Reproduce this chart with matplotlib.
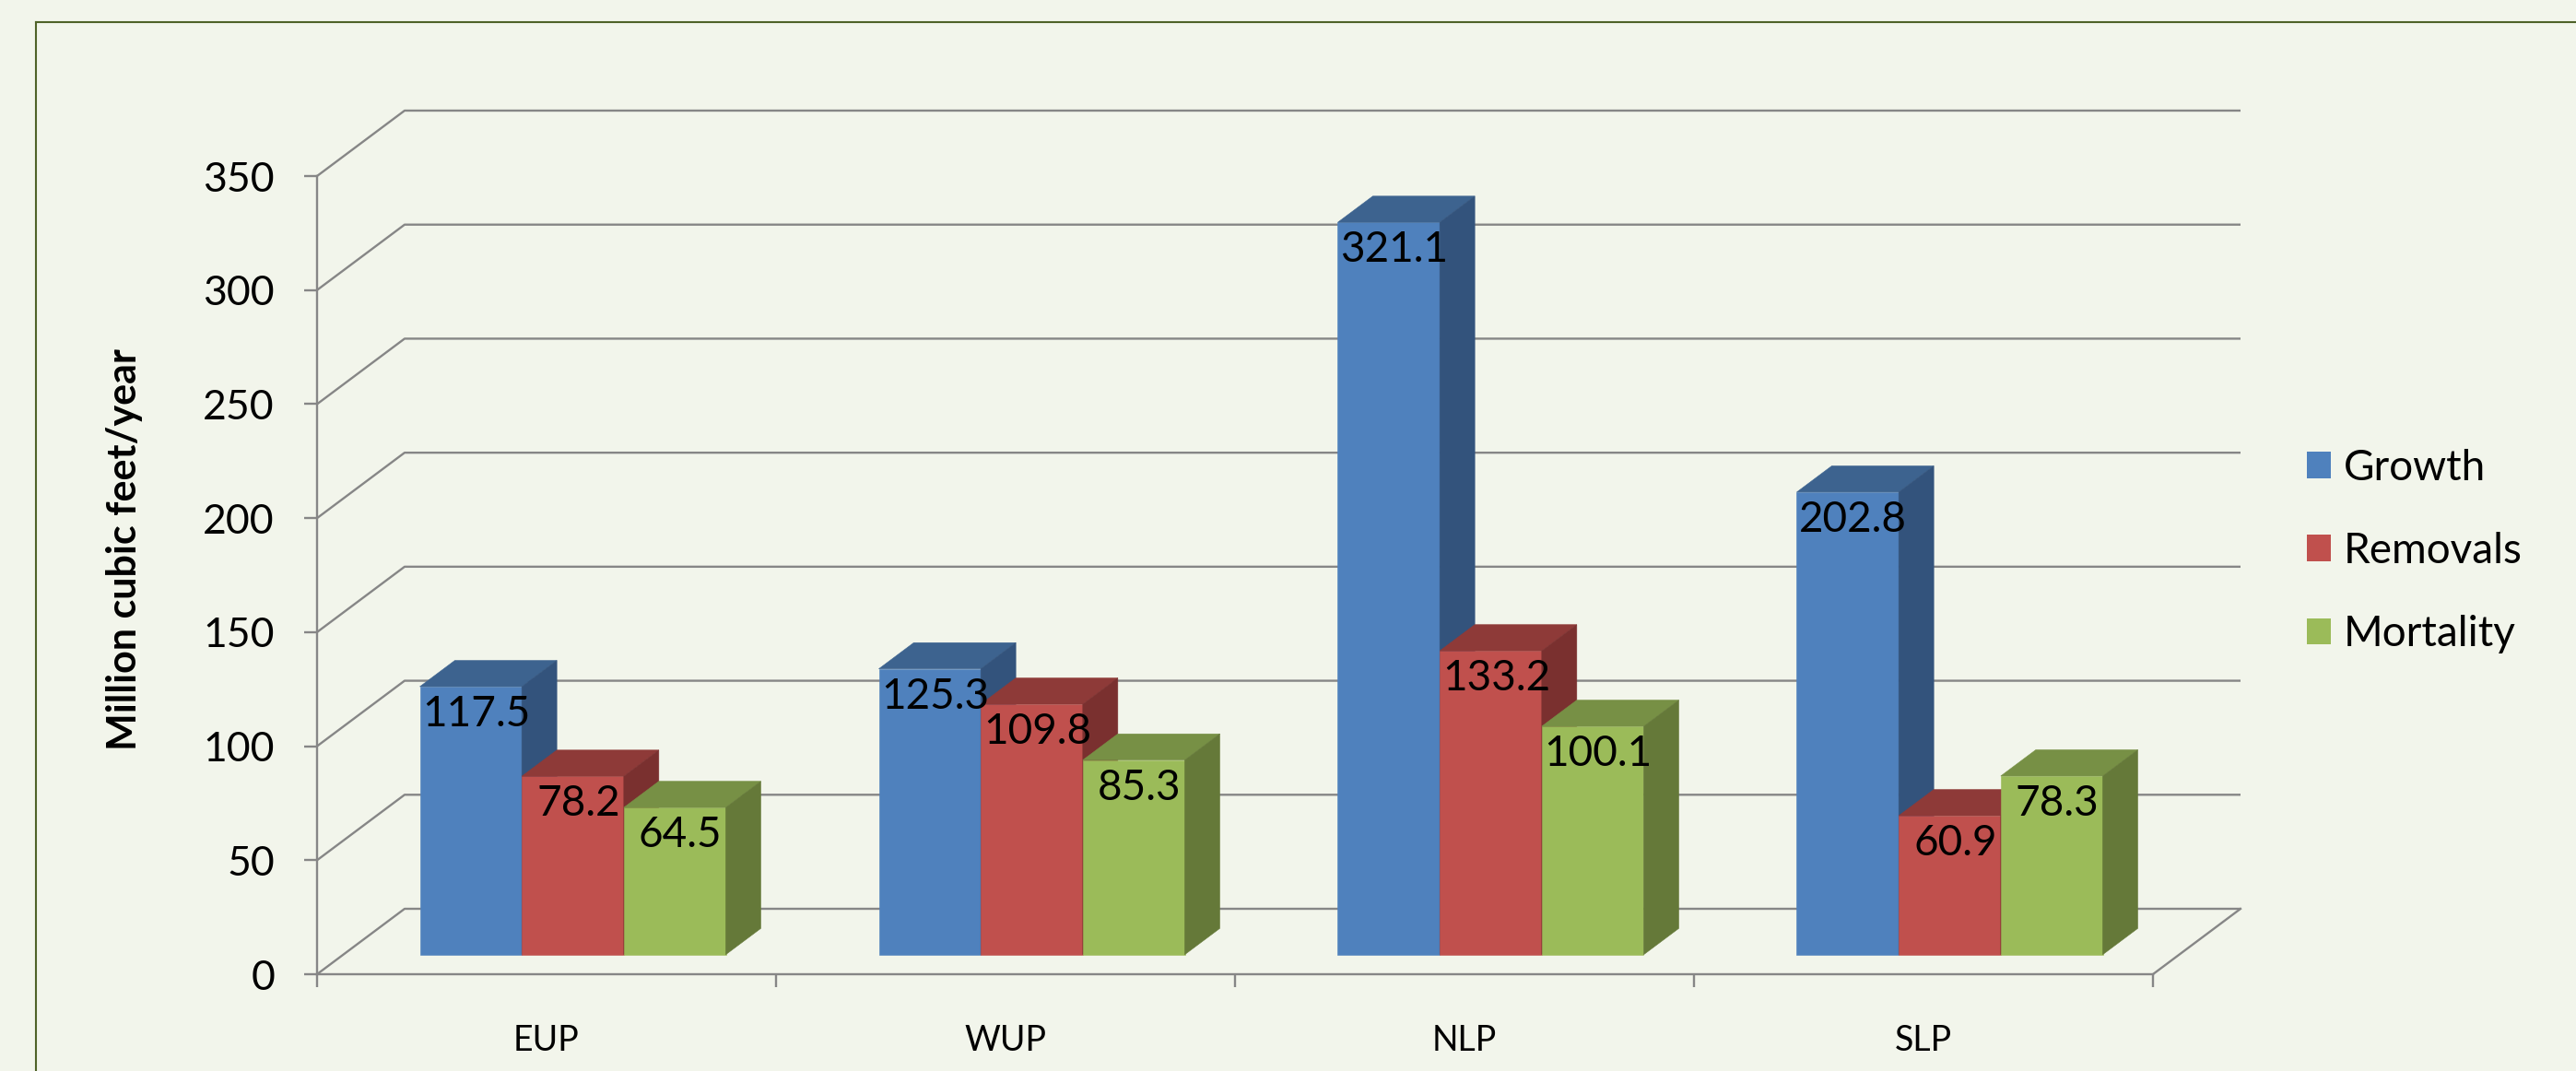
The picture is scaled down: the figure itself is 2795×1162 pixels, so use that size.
import matplotlib
matplotlib.use("Agg")
import matplotlib.pyplot as plt
from matplotlib.patches import Polygon, Patch
from matplotlib.lines import Line2D

# ---------------- data ----------------
categories = ["EUP", "WUP", "NLP", "SLP"]
series_names = ["Growth", "Removals", "Mortality"]
growth = [117.5, 125.3, 321.1, 202.8]
removals = [78.2, 109.8, 133.2, 60.9]
mortality = [64.5, 85.3, 100.1, 78.3]
y_ticks = [0, 50, 100, 150, 200, 250, 300, 350]
y_label = "Million cubic feet/year"

# ---------------- style ----------------
W, H, DPI = 2795, 1162, 100
BG = "#F2F5EB"
BORDER = "#4F6228"
GRID = "#868686"
face_cols = ["#4F81BD", "#C0504D", "#9BBB59"]
top_cols = ["#3D638F", "#8E3A38", "#779045"]
side_cols = ["#33537C", "#7A302F", "#657939"]

plt.rcParams["font.family"] = ["Lato", "DejaVu Sans"]

fig = plt.figure(figsize=(W / DPI, H / DPI), dpi=DPI, facecolor=BG)

# front plane of the 3-D box, in pixels
L, R, T, B = 344, 2336, 191, 1057
ax = fig.add_axes([L / W, 1 - B / H, (R - L) / W, (B - T) / H])
ax.set_facecolor("none")
ncat = len(categories)
ymax = y_ticks[-1]
ax.set_xlim(0, ncat)
ax.set_ylim(0, ymax)

# depth of the box, converted into data units
DX_PX, DY_PX = 95, 71
dxc = DX_PX / ((R - L) / ncat)
dyv = DY_PX / ((B - T) / ymax)


def P(x, v, z):
    return (x + z * dxc, v + z * dyv)


LW = 1.7
# walls / gridlines
for v in y_ticks:
    pts = [P(0, v, 0), P(0, v, 1), P(ncat, v, 1)]
    ax.plot([p[0] for p in pts], [p[1] for p in pts], color=GRID, lw=LW,
            clip_on=False, zorder=1, solid_capstyle="butt")
pts = [P(ncat, 0, 0), P(ncat, 0, 1)]
ax.plot([p[0] for p in pts], [p[1] for p in pts], color=GRID, lw=LW,
        clip_on=False, zorder=1)

# axes lines and ticks
for s in ["top", "right"]:
    ax.spines[s].set_visible(False)
for s in ["left", "bottom"]:
    ax.spines[s].set_color(GRID)
    ax.spines[s].set_linewidth(LW)
    ax.spines[s].set_zorder(2)
ax.set_yticks(y_ticks)
ax.set_yticklabels([str(t) for t in y_ticks])
ax.tick_params(axis="y", direction="out", length=14 * 0.72, width=LW,
               color=GRID, pad=32 * 0.72, labelsize=32, labelcolor="black")
ax.set_xticks(range(ncat + 1))
ax.set_xticklabels([""] * (ncat + 1))
ax.tick_params(axis="x", direction="out", length=14 * 0.72, width=LW,
               color=GRID)

for i, c in enumerate(categories):
    ax.annotate(c, xy=(i + 0.5, 0), xytext=(0, -68), textcoords="offset pixels",
                ha="center", va="center_baseline", fontsize=27, color="black",
                annotation_clip=False)

# bars
values = [growth, removals, mortality]
nser = len(values)
gap = 1.5
w = 1.0 / (nser + gap)
off = gap * w / 2
z0, z1 = 0.3, 0.7
for i in range(ncat):
    for j in range(nser):
        v = values[j][i]
        x0 = i + off + j * w
        x1 = x0 + w
        front = [P(x0, 0, z0), P(x1, 0, z0), P(x1, v, z0), P(x0, v, z0)]
        top = [P(x0, v, z0), P(x1, v, z0), P(x1, v, z1), P(x0, v, z1)]
        side = [P(x1, 0, z0), P(x1, 0, z1), P(x1, v, z1), P(x1, v, z0)]
        for poly, col in ((front, face_cols[j]), (top, top_cols[j]),
                          (side, side_cols[j])):
            ax.add_patch(Polygon(poly, closed=True, facecolor=col,
                                 edgecolor=col, lw=0.4, clip_on=False,
                                 zorder=3))
        tx, ty = P(x0 + w / 2, v, z0)
        ax.annotate(f"{v:.1f}", xy=(tx, ty), xytext=(6, -26),
                    textcoords="offset pixels", ha="center",
                    va="center_baseline", fontsize=33, color="black",
                    zorder=5, annotation_clip=False)

# legend
handles = [Patch(facecolor=c, edgecolor="none") for c in face_cols]
fs = 33
fpx = fs / 0.72
fig.legend(handles, series_names, loc="center left",
           bbox_to_anchor=(2503 / W, 1 - 598 / H), frameon=False,
           fontsize=fs, handlelength=26 / fpx, handleheight=27 / fpx,
           handletextpad=14 / fpx, labelspacing=1.05, borderpad=0,
           borderaxespad=0)

# axis title
fig.text(135 / W, 1 - 596 / H, y_label, rotation=90, ha="center",
         va="center", fontsize=31, fontweight="bold", color="black")

# chart border (top and left edges visible)
fig.add_artist(Line2D([39 / W, 1], [1 - 24 / H, 1 - 24 / H],
                      transform=fig.transFigure, color=BORDER, lw=1.5))
fig.add_artist(Line2D([39 / W, 39 / W], [0, 1 - 24 / H],
                      transform=fig.transFigure, color=BORDER, lw=1.5))

fig.savefig("out.png", dpi=DPI, facecolor=BG)
